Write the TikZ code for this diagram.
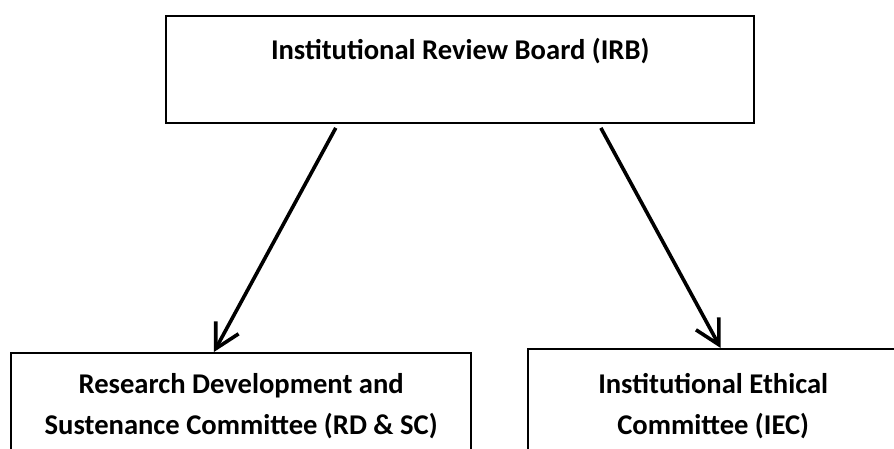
\documentclass[tikz,border=0pt]{standalone}
\usepackage{fontspec}
\setmainfont{Carlito}
\usetikzlibrary{arrows.meta, positioning, calc}
\tikzset{
    block/.style={rectangle, draw, line width=1.2pt, align=center, inner sep=0pt, font=\bfseries\fontsize{14.3}{20.5}\selectfont},
    arrow/.style={line width=1.8pt, -{Straight Barb[length=12pt, width=13pt, line width=1.8pt]}}
}

\begin{document}
\begin{tikzpicture}[x=0.5pt, y=-0.5pt]

    % Canvas
    \useasboundingbox (0,0) rectangle (894,449);

    % Top Node
    \node (irb) [block, anchor=north west, minimum width=294pt, text height=21.5pt, text depth=32pt] at (165,15) {Institutional Review Board (IRB)};

    % Bottom Row Nodes
    \node (rdsc) [block, anchor=north west, minimum width=230pt, minimum height=53pt] at (10,352) {Research Development and \\ Sustenance Committee (RD \& SC)};
    \node (iec) [block, anchor=north west, minimum width=185pt, minimum height=57pt] at (527,348) {Institutional Ethical \\ Committee (IEC)};

    % Arrows
    \draw [arrow, shorten <=2pt] ($(irb.south west)!0.2925!(irb.south east)$) -- ($(rdsc.north west)!0.441!(rdsc.north east)$);
    \draw [arrow, shorten <=2pt] ($(irb.south west)!0.735!(irb.south east)$) -- ($(iec.north west)!0.52!(iec.north east)$);

\end{tikzpicture}
\end{document}
